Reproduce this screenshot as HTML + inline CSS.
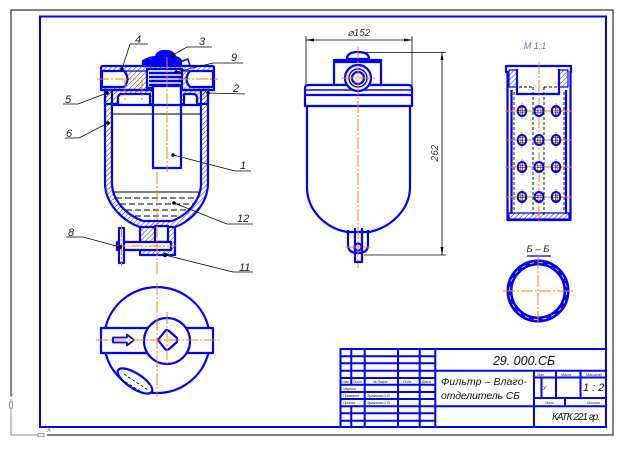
<!DOCTYPE html>
<html><head><meta charset="utf-8"><style>
html,body{margin:0;padding:0;background:#fff;}
svg{display:block;}
text{font-family:"Liberation Sans",sans-serif;font-style:italic;}
</style></head><body>
<svg width="630" height="451" viewBox="0 0 630 451" xmlns="http://www.w3.org/2000/svg">
<defs>
<pattern id="h" patternUnits="userSpaceOnUse" width="3.5" height="3.5" patternTransform="rotate(45)">
<line x1="0" y1="0" x2="0" y2="3.5" stroke="#000" stroke-width="0.8"/>
</pattern>
<pattern id="g" patternUnits="userSpaceOnUse" width="2.5" height="2.5">
<path d="M0,0 H2.5 M0,0 V2.5" stroke="#000" stroke-width="0.7" fill="none"/>
</pattern>
</defs>
<rect width="630" height="451" fill="#fff"/>

<!-- frames -->
<polyline points="11,396 11,10 613,10 613,435 47,435" fill="none" stroke="#000" stroke-width="1"/>
<rect x="40" y="16.5" width="566" height="410.5" fill="none" stroke="#00f" stroke-width="2"/>
<polyline points="11,399 11,435 38,435" fill="none" stroke="#888" stroke-width="1"/>
<rect x="9.5" y="402" width="3" height="6" fill="#fff" stroke="#888" stroke-width="0.8"/>
<rect x="38" y="433.5" width="6" height="3" fill="#fff" stroke="#888" stroke-width="0.8"/>
<text x="10" y="397" font-size="6" fill="#a86">Y</text>
<text x="47" y="432" font-size="6" fill="#679">X</text>

<!-- ============ MAIN VIEW ============ -->
<g stroke="#00f" stroke-width="2.2" fill="none" stroke-linejoin="round">
  <!-- bowl walls -->
  <path d="M105,90 L105,183 C105,203 122,221 140,227 L175,227 C192,221 208,203 208,183 L208,90 L201,90 L201,183 C201,200 188,215 172,221 L143,221 C126,215 112,200 112,183 L112,90 Z" fill="url(#h)"/>
  <!-- cap -->
  <path d="M101,90 L101,68 Q101,66 103,66 L212,66 Q214,66 214,68 L214,90 Z" fill="url(#h)"/>
  <rect x="105" y="90" width="103" height="14" fill="url(#h)"/>
  <path d="M118,104 V98 Q118,94 122,94 H150 V104" fill="#fff"/>
  <path d="M184,104 V94 H193 Q197,94 197,98 V104" fill="#fff"/>
  <path d="M102,71 L124,71 Q131,79 124,87 L102,87 Z" fill="#fff"/>
  <path d="M213,71 L190,71 Q183,79 190,87 L213,87 Z" fill="#fff"/>
  <line x1="101" y1="71" x2="214" y2="71" stroke-width="1.2"/>
  <rect x="147" y="69" width="35" height="19" fill="#fff"/>
  <!-- tube part 1 -->
  <rect x="153" y="86" width="28" height="82" fill="#fff"/>
  <!-- spring -->
  <path d="M149,73 H181 M149,77 H181 M149,81 H181 M149,85 H181" stroke-width="2.4"/>
  <!-- knob -->
  <path d="M143,66 L143,61 Q150,57 156,57 Q157,51 165,51 Q174,51 175,57 Q180,58 181,61 L181,66 Z" fill="#00f"/>
  <path d="M180,62 L188,59 L190,66" stroke-width="1.5"/>
  <!-- ring -->
  <line x1="112" y1="105" x2="201" y2="105"/>
  <!-- drain -->
  <path d="M140,226 V255 H175 V226" fill="url(#h)"/>
  <rect x="155" y="226" width="13" height="16" fill="#fff"/>
  <rect x="117" y="242" width="54" height="8" fill="#fff"/>
  <rect x="119" y="228" width="5" height="35" fill="#fff"/>
</g>
<line x1="112" y1="114" x2="201" y2="114" stroke="#000" stroke-width="1"/>
<line x1="113" y1="192" x2="200" y2="192" stroke="#000" stroke-width="1"/>
<g stroke="#000" stroke-width="0.9" stroke-dasharray="6,3">
  <line x1="116" y1="198" x2="197" y2="198"/>
  <line x1="120" y1="204" x2="193" y2="204"/>
  <line x1="126" y1="210" x2="187" y2="210"/>
  <line x1="135" y1="216" x2="178" y2="216"/>
</g>
<!-- axes main -->
<g stroke="#ff8000" stroke-width="1" stroke-dasharray="12,2,2,2" fill="none">
  <line x1="167" y1="57" x2="167" y2="172"/>
  <line x1="157" y1="172" x2="157" y2="276"/>
  <line x1="97" y1="79" x2="136" y2="79"/>
  <line x1="178" y1="79" x2="218" y2="79"/>
  <line x1="125" y1="80" x2="125" y2="100"/>
  <line x1="142" y1="80" x2="142" y2="100"/>
  <line x1="113" y1="246" x2="176" y2="246"/>
  <line x1="121.5" y1="225" x2="121.5" y2="266"/>
</g>
<!-- leaders -->
<g stroke="#000" stroke-width="0.8" fill="none">
  <polyline points="148,44 130,44 122,69"/>
  <polyline points="212,47 187,47 173,55"/>
  <polyline points="243,63 213,63 176,72"/>
  <polyline points="245,94 208,93"/>
  <polyline points="63,104 78,104 107,93"/>
  <polyline points="65,138 79,138 108,123"/>
  <polyline points="251,171 235,171 173,155"/>
  <polyline points="253,224 227,224 174,203"/>
  <polyline points="66,237 83,237 120,247"/>
  <polyline points="253,272 233,272 165,255"/>
</g>
<g fill="#000">
  <circle cx="122" cy="69" r="1.8"/><circle cx="173" cy="55" r="1.8"/>
  <circle cx="176" cy="72" r="1.8"/><circle cx="208" cy="93" r="1.8"/>
  <circle cx="107" cy="93" r="1.8"/><circle cx="108" cy="123" r="1.8"/>
  <circle cx="173" cy="155" r="1.8"/><circle cx="174" cy="203" r="1.8"/>
  <circle cx="120" cy="247" r="2.2"/><circle cx="165" cy="255" r="2.2"/>
</g>
<g font-size="11" fill="#222">
  <text x="135" y="43">4</text>
  <text x="199" y="45">3</text>
  <text x="231" y="61">9</text>
  <text x="233" y="92">2</text>
  <text x="65" y="103">5</text>
  <text x="66" y="137">6</text>
  <text x="240" y="169">1</text>
  <text x="237" y="222">12</text>
  <text x="68" y="236">8</text>
  <text x="239" y="271">11</text>
</g>

<!-- ============ PLAN VIEW ============ -->
<g stroke="#00f" stroke-width="2.2" fill="none" stroke-linejoin="round">
  <path d="M105.4,328 A53,53 0 0 1 208.6,328"/>
  <path d="M208.4,353 A53,53 0 0 1 105.6,353"/>
  <rect x="101" y="328" width="112" height="25" fill="#fff"/>
  <circle cx="167" cy="341" r="23" fill="#fff"/>
  <path d="M158,340 L165,331 Q167,329 169,331 L177,338 L177,342 L169,349 Q167,351 165,349 Z"/>
  <path d="M113,337.5 H127 V334.5 L134,340 L127,345.5 V342.5 H113 Z" stroke-width="1.8"/>
  <ellipse cx="135" cy="381" rx="20" ry="7.5" transform="rotate(33 135 381)" fill="#fff"/>
</g>
<path d="M124,374 L148,390 M121,379 L143,393" stroke="#000" stroke-width="0.8" stroke-dasharray="3,2"/>
<g stroke="#ff8000" stroke-width="1" stroke-dasharray="12,2,2,2">
  <line x1="96" y1="340" x2="219" y2="340"/>
  <line x1="157" y1="283" x2="157" y2="397"/>
  <line x1="167" y1="312" x2="167" y2="366"/>
</g>

<!-- ============ MIDDLE VIEW ============ -->
<g stroke="#000" stroke-width="0.8" fill="none">
  <line x1="306" y1="40" x2="412" y2="40"/>
  <line x1="306" y1="36" x2="306" y2="88"/>
  <line x1="412" y1="36" x2="412" y2="88"/>
  <line x1="360" y1="52.5" x2="446" y2="52.5"/>
  <line x1="364" y1="255" x2="446" y2="255"/>
  <line x1="442" y1="52.5" x2="442" y2="255"/>
</g>
<g fill="#000">
  <path d="M306,40 L314,38.5 L314,41.5 Z"/><path d="M412,40 L404,38.5 L404,41.5 Z"/>
  <path d="M442,52.5 L440.5,60 L443.5,60 Z"/><path d="M442,255 L440.5,247 L443.5,247 Z"/>
</g>
<text x="359" y="36" font-size="10" fill="#333" text-anchor="middle">⌀152</text>
<text x="0" y="0" font-size="10" fill="#333" text-anchor="middle" transform="translate(438,153) rotate(-90)">262</text>
<g stroke="#00f" stroke-width="2.2" fill="none" stroke-linejoin="round">
  <path d="M347,59 Q347,52 358,52 Q369,52 369,59 Z"/>
  <rect x="334" y="60" width="47" height="25"/>
  <line x1="334" y1="62" x2="381" y2="62"/>
  <path d="M307,106 V187 C307,210 325,228 347,232 H369 C390,228 410,210 410,187 V106"/>
  <path d="M305,106 V88 Q305,85 309,85 H408 Q412,85 412,88 V106 Z" fill="#fff"/>
  <line x1="305" y1="90" x2="412" y2="90" stroke-width="1.5"/>
  <line x1="305" y1="95" x2="412" y2="95"/>
  <circle cx="358" cy="78" r="13" fill="#fff"/>
  <circle cx="358" cy="78" r="9" stroke-width="1.5"/>
  <circle cx="358" cy="78" r="6"/>
  <path d="M348,230 V245 Q348,253 358,253 Q368,253 368,245 V230"/>
  <path d="M355,228 V262 H362 V228"/>
  <circle cx="358" cy="247" r="3.5"/>
</g>
<g stroke="#ff8000" stroke-width="1" stroke-dasharray="12,2,2,2">
  <line x1="358" y1="47" x2="358" y2="268"/>
  <line x1="341" y1="78" x2="375" y2="78"/>
  <line x1="345" y1="247" x2="371" y2="247"/>
</g>

<!-- ============ RIGHT VIEW ============ -->
<text x="535" y="49" font-size="9" fill="#5a7aa8" text-anchor="middle">М 1:1</text>
<g stroke="#00f" stroke-width="2.2" fill="none" stroke-linejoin="round">
  <path d="M506,66 H571 V72 H570.5 V220 H507.5 V72 H506 Z"/>
  <line x1="511.5" y1="90" x2="511.5" y2="214"/>
  <line x1="566" y1="90" x2="566" y2="214"/>
  <rect x="509" y="70" width="8" height="17" fill="url(#h)" stroke-width="1.2"/>
  <rect x="559" y="70" width="9" height="17" fill="url(#h)" stroke-width="1.2"/>
  <path d="M517,69 V94 H559 V69"/>
  <rect x="509" y="213" width="60" height="6" fill="url(#h)" stroke-width="1.2"/>
</g>
<g stroke="#000" stroke-width="0.9" stroke-dasharray="3,2" fill="none">
  <line x1="533" y1="87" x2="533" y2="217"/>
  <line x1="544" y1="87" x2="544" y2="217"/>
  <line x1="519" y1="87" x2="533" y2="87"/>
  <line x1="544" y1="87" x2="558" y2="87"/>
  <line x1="514" y1="92" x2="514" y2="212"/>
  <line x1="564" y1="92" x2="564" y2="212"/>
</g>
<g stroke="#ff8000" stroke-width="1" stroke-dasharray="12,2,2,2">
  <line x1="539" y1="62" x2="539" y2="223"/>
  <line x1="505" y1="111" x2="573" y2="111"/>
  <line x1="505" y1="140" x2="573" y2="140"/>
  <line x1="505" y1="167" x2="573" y2="167"/>
  <line x1="505" y1="197" x2="573" y2="197"/>
</g>
<g stroke="#ff8000" stroke-width="1">
  <line x1="522" y1="103" x2="522" y2="119"/><line x1="556" y1="103" x2="556" y2="119"/>
  <line x1="522" y1="132" x2="522" y2="148"/><line x1="556" y1="132" x2="556" y2="148"/>
  <line x1="522" y1="159" x2="522" y2="175"/><line x1="556" y1="159" x2="556" y2="175"/>
  <line x1="522" y1="189" x2="522" y2="205"/><line x1="556" y1="189" x2="556" y2="205"/>
</g>
<g stroke="#00f" stroke-width="2" fill="url(#g)">
  <ellipse cx="522" cy="111" rx="4.3" ry="5"/><ellipse cx="539" cy="111" rx="4.5" ry="5"/><ellipse cx="556" cy="111" rx="4.3" ry="5"/>
  <ellipse cx="522" cy="140" rx="4.3" ry="5"/><ellipse cx="539" cy="140" rx="4.5" ry="5"/><ellipse cx="556" cy="140" rx="4.3" ry="5"/>
  <ellipse cx="522" cy="167" rx="4.3" ry="5"/><ellipse cx="539" cy="167" rx="4.5" ry="5"/><ellipse cx="556" cy="167" rx="4.3" ry="5"/>
  <ellipse cx="522" cy="197" rx="4.3" ry="5"/><ellipse cx="539" cy="197" rx="4.5" ry="5"/><ellipse cx="556" cy="197" rx="4.3" ry="5"/>
</g>
<text x="538" y="252" font-size="9.5" fill="#223" text-anchor="middle">Б – Б</text>
<line x1="527" y1="256" x2="551" y2="256" stroke="#00f" stroke-width="1.2"/>
<circle cx="538" cy="291" r="28.5" fill="none" stroke="#00f" stroke-width="6"/>
<circle cx="538" cy="291" r="28.5" fill="none" stroke="#fff" stroke-width="0.8" stroke-dasharray="4,5"/>
<g stroke="#ff8000" stroke-width="1" stroke-dasharray="12,2,2,2">
  <line x1="503" y1="291" x2="573" y2="291"/>
  <line x1="538" y1="257" x2="538" y2="326"/>
</g>

<!-- ============ TITLE BLOCK ============ -->
<g stroke="#00f" stroke-width="2" fill="none">
  <path d="M340.5,427 V349 H607"/>
  <path d="M340.5,356.3 H435 M340.5,363.3 H435 M340.5,370.7 H607 M340.5,378 H435 M340.5,384.7 H435 M340.5,392 H435 M340.5,399 H435 M340.5,406.3 H607 M340.5,413.3 H435 M340.5,420.7 H435"/>
  <path d="M351.3,349 V384.7 M351.3,406.3 V427 M364.7,349 V427 M398,349 V427 M419.7,349 V427 M435.3,349 V427"/>
  <path d="M534,370.7 V427 M534,377.5 H607 M534,398 H607 M541.5,377.5 V398 M556,370.7 V398 M580.5,370.7 V398 M565,398 V406.3"/>
</g>
<text x="524" y="365" font-size="12.5" fill="#111" text-anchor="middle">29. 000.СБ</text>
<text x="441" y="385" font-size="10.5" fill="#111" textLength="86">Фильтр – Влаго-</text>
<text x="441" y="399" font-size="10.5" fill="#111" textLength="79">отделитель СБ</text>
<text x="583" y="391" font-size="11" fill="#111">1 : 2</text>
<text x="543" y="390" font-size="5" fill="#111">У</text>
<text x="552" y="420" font-size="10" fill="#111" textLength="48">КАТК 221 гр.</text>
<g font-size="3.5" fill="#111">
  <text x="537" y="376">Лит</text>
  <text x="561" y="376">Масса</text>
  <text x="586" y="376">Масштаб</text>
  <text x="545" y="404">Лист</text>
  <text x="587" y="404">Листов</text>
  <text x="342" y="383">Изм</text>
  <text x="353" y="383">Лист</text>
  <text x="373" y="383">№ докум</text>
  <text x="403" y="383">Подп</text>
  <text x="422" y="383">Дата</text>
  <text x="343" y="390">Чертил</text>
  <text x="343" y="397">Проверил</text>
  <text x="343" y="404">Принял</text>
  <text x="367" y="397">Эрганова О.В.</text>
  <text x="367" y="404">Эрганова О.В.</text>
</g>
</svg>
</body></html>
